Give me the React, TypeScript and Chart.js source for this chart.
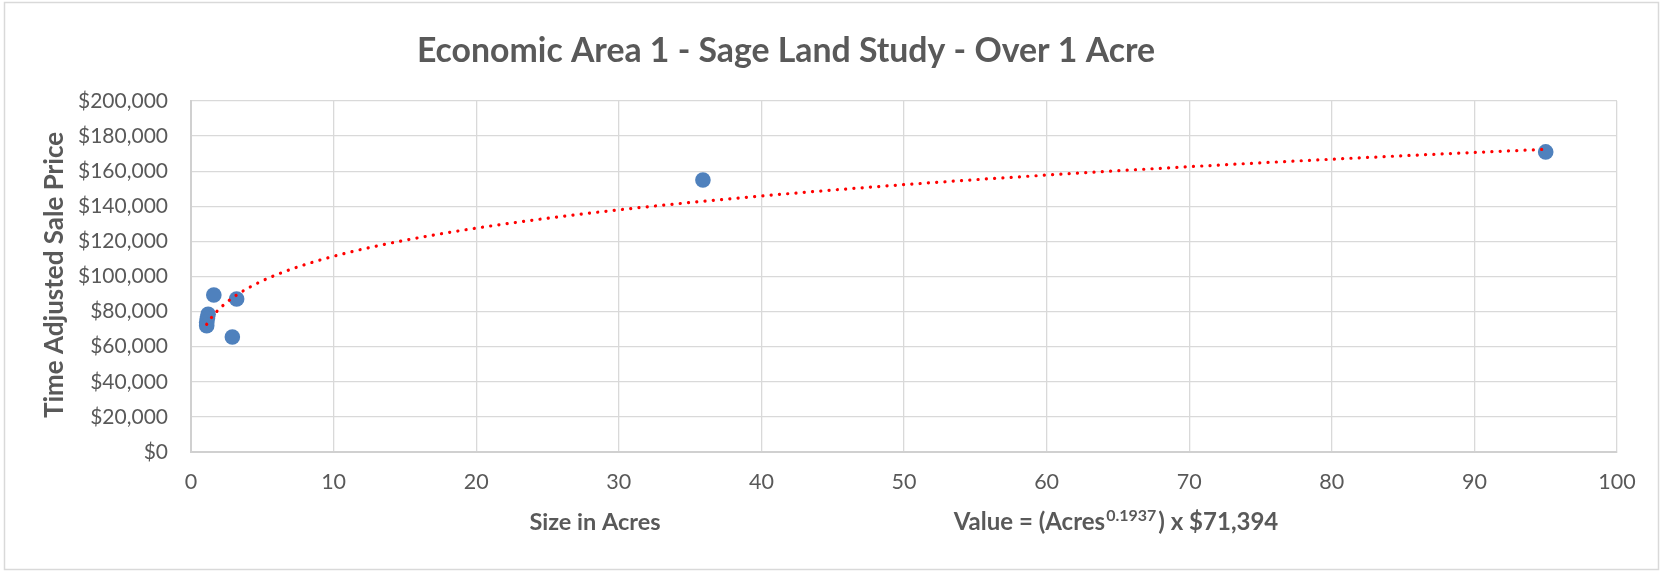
import React, { useEffect, useRef } from "react";
import { Chart, registerables } from "chart.js";

Chart.register(...registerables);

const TITLE = "Economic Area 1 - Sage Land Study - Over 1 Acre";
const X_TITLE = "Size in Acres";
const Y_TITLE = "Time Adjusted Sale Price";

const acres = [1.6, 3.2, 1.2, 1.15, 1.1, 1.1, 2.9, 35.9, 95.0];
const prices = [89500, 87200, 78500, 76000, 74000, 72000, 65500, 155000, 171000];

const TREND_COEF = 71394;
const TREND_EXP = 0.1937;
const TREND_START = 1.1;
const TREND_END = 95;

const xTicks = [0, 10, 20, 30, 40, 50, 60, 70, 80, 90, 100];
const yTicks = [0, 20000, 40000, 60000, 80000, 100000, 120000, 140000, 160000, 180000, 200000];

const FONT = "Lato, 'Open Sans', sans-serif";
const TEXT = "#595959";

function trendPoints() {
  const pts: { x: number; y: number }[] = [];
  const n = 300;
  const a = Math.log(TREND_START);
  const b = Math.log(TREND_END);
  for (let i = 0; i <= n; i++) {
    const x = Math.exp(a + ((b - a) * i) / n);
    pts.push({ x, y: TREND_COEF * Math.pow(x, TREND_EXP) });
  }
  return pts;
}

const decorPlugin = {
  id: "decor",
  beforeDraw(chart: any) {
    const ctx = chart.ctx;
    ctx.save();
    ctx.fillStyle = "#ffffff";
    ctx.fillRect(0, 0, chart.width, chart.height);
    ctx.strokeStyle = "#d9d9d9";
    ctx.lineWidth = 1.5;
    ctx.strokeRect(4.5, 2.5, 1654, 567);
    ctx.restore();
  },
  afterDraw(chart: any) {
    const ctx = chart.ctx;
    ctx.save();
    ctx.fillStyle = TEXT;
    ctx.textAlign = "center";
    ctx.textBaseline = "alphabetic";
    ctx.font = `bold 33.8px ${FONT}`;
    ctx.fillText(TITLE, 786, 62);

    ctx.font = `bold 23.5px ${FONT}`;
    ctx.fillText(X_TITLE, 595, 530);

    ctx.save();
    ctx.translate(63, 275);
    ctx.rotate(-Math.PI / 2);
    ctx.font = `bold 26px ${FONT}`;
    ctx.fillText(Y_TITLE, 0, 0);
    ctx.restore();

    // formula
    const p1 = "Value = (Acres";
    const sup = String(TREND_EXP);
    const p2 = ") x $" + TREND_COEF.toLocaleString("en-US");
    ctx.textAlign = "left";
    const big = `bold 24px ${FONT}`;
    const small = `bold 16px ${FONT}`;
    ctx.font = big;
    const w1 = ctx.measureText(p1).width;
    const w3 = ctx.measureText(p2).width;
    ctx.font = small;
    const w2 = ctx.measureText(sup).width;
    const total = w1 + w2 + w3 + 3;
    let x = 1116 - total / 2;
    const base = 530;
    ctx.font = big;
    ctx.fillText(p1, x, base);
    x += w1;
    ctx.font = small;
    ctx.fillText(sup, x + 1, base - 9);
    x += w2 + 3;
    ctx.font = big;
    ctx.fillText(p2, x, base);
    ctx.restore();
  },
};

export default function App() {
  const ref = useRef<HTMLCanvasElement | null>(null);

  useEffect(() => {
    document.body.style.margin = "0";
    if (!ref.current) return;
    const chart = new Chart(ref.current, {
      type: "scatter",
      data: {
        datasets: [
          {
            type: "line",
            data: trendPoints(),
            showLine: true,
            pointRadius: 0,
            borderColor: "#ff0000",
            borderWidth: 3.2,
            borderDash: [0.1, 8.2],
            borderCapStyle: "round",
            tension: 0,
            fill: false,
          } as any,
          {
            data: acres.map((a, i) => ({ x: a, y: prices[i] })),
            pointRadius: 7.8,
            pointHoverRadius: 7.8,
            backgroundColor: "#4f81bd",
            borderColor: "#4f81bd",
            borderWidth: 0,
            showLine: false,
          },
        ],
      },
      options: {
        animation: false,
        responsive: false,
        devicePixelRatio: 1,
        layout: { padding: { top: 101, right: 46, left: 0, bottom: 0 } },
        plugins: {
          legend: { display: false },
          title: { display: false },
          tooltip: { enabled: false },
        },
        scales: {
          x: {
            type: "linear",
            min: xTicks[0],
            max: xTicks[xTicks.length - 1],
            afterFit: (s: any) => {
              s.height = 119;
            },
            afterBuildTicks: (s: any) => {
              s.ticks = xTicks.map((v) => ({ value: v }));
            },
            ticks: {
              color: TEXT,
              font: { family: FONT, size: 21.5 },
              padding: 17,
            },
            grid: { color: "#d9d9d9", lineWidth: 1.3, drawTicks: false },
            border: { color: "#d0d0d0", width: 2 },
          },
          y: {
            type: "linear",
            min: yTicks[0],
            max: yTicks[yTicks.length - 1],
            afterFit: (s: any) => {
              s.width = 191;
            },
            afterBuildTicks: (s: any) => {
              s.ticks = yTicks.map((v) => ({ value: v }));
            },
            ticks: {
              color: TEXT,
              font: { family: FONT, size: 21 },
              padding: 23,
              callback: (v: any) => "$" + Number(v).toLocaleString("en-US"),
            },
            grid: { color: "#d9d9d9", lineWidth: 1.3, drawTicks: false },
            border: { color: "#d0d0d0", width: 2 },
          },
        },
      },
      plugins: [decorPlugin],
    });
    return () => chart.destroy();
  }, []);

  return (
    <div style={{ width: 1663, height: 571, position: "relative" }}>
      <canvas ref={ref} width={1663} height={571} style={{ width: 1663, height: 571, display: "block" }} />
    </div>
  );
}
